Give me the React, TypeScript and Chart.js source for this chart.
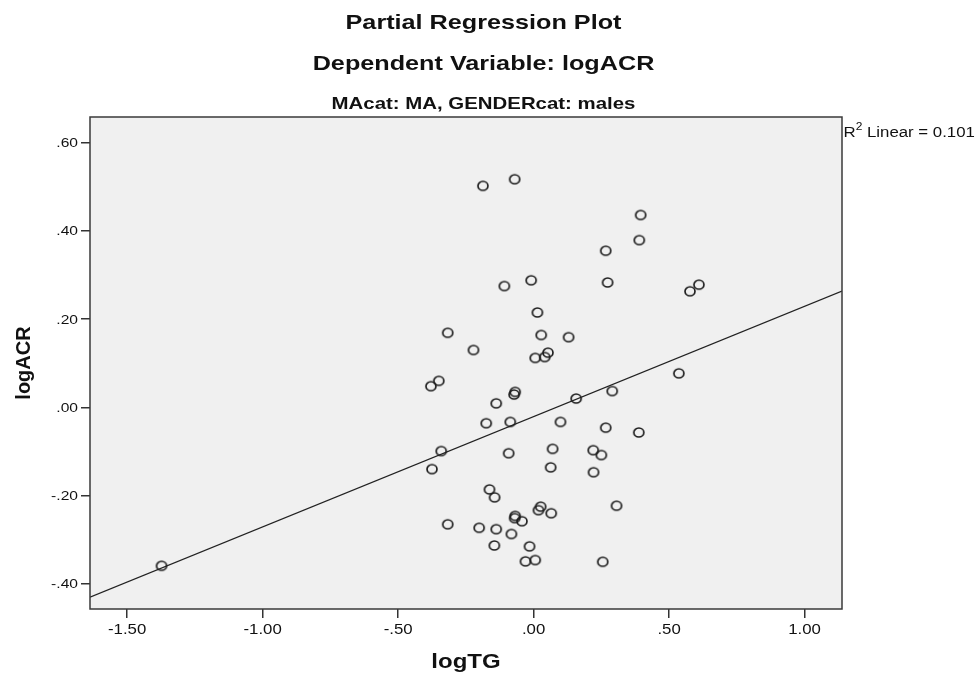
import React, { useEffect, useRef } from "react";
import { Chart, registerables } from "chart.js";

Chart.register(...registerables);

// ---- data ----
const TITLE_LINES = ["Partial Regression Plot", "Dependent Variable: logACR"];
const SUBTITLE = "MAcat: MA, GENDERcat: males";
const X_LABEL = "logTG";
const Y_LABEL = "logACR";
const R2_TEXT = ["R", "2", " Linear = 0.101"];

const X_TICKS = [-1.5, -1.0, -0.5, 0.0, 0.5, 1.0];
const Y_TICKS = [-0.4, -0.2, 0.0, 0.2, 0.4, 0.6];
const X_MIN = -1.637;
const X_MAX = 1.138;
const Y_MIN = -0.457;
const Y_MAX = 0.658;

const X_VALUES = [
  -1.373, -0.187, -0.07, 0.395, 0.39, 0.266, 0.273, -0.009, -0.108, 0.577,
  0.61, 0.014, -0.317, 0.028, 0.129, -0.222, 0.006, 0.041, 0.053, -0.379,
  -0.35, -0.068, -0.072, -0.138, 0.157, 0.29, 0.536, -0.175, -0.086, 0.099,
  0.266, 0.388, -0.341, -0.092, 0.07, 0.22, 0.25, -0.375, 0.063, 0.221,
  -0.163, -0.144, 0.026, 0.018, 0.065, 0.306, -0.068, -0.07, -0.043, -0.317,
  -0.201, -0.138, -0.082, -0.145, -0.015, -0.03, 0.006, 0.255,
];
const Y_VALUES = [
  -0.359, 0.502, 0.517, 0.436, 0.379, 0.355, 0.283, 0.288, 0.275, 0.263,
  0.278, 0.215, 0.169, 0.164, 0.159, 0.13, 0.112, 0.114, 0.124, 0.048,
  0.06, 0.035, 0.029, 0.009, 0.02, 0.037, 0.077, -0.036, -0.033, -0.033,
  -0.046, -0.057, -0.099, -0.104, -0.094, -0.097, -0.108, -0.14, -0.136, -0.147,
  -0.186, -0.204, -0.225, -0.233, -0.24, -0.223, -0.246, -0.251, -0.258, -0.265,
  -0.273, -0.276, -0.287, -0.313, -0.315, -0.349, -0.346, -0.35,
];
const FIT_INTERCEPT = -0.021;
const FIT_SLOPE = 0.25;

// ---- styling ----
const FONT = "'Liberation Sans', Arial, sans-serif";
const STRETCH = 1.2;
const TEXT_COLOR = "#111";

function fmtTick(v: number): string {
  const s = Math.abs(v).toFixed(2);
  const t = s.startsWith("0") ? s.slice(1) : s;
  return (v < -1e-9 ? "-" : "") + t;
}

function drawStretched(
  ctx: CanvasRenderingContext2D,
  text: string,
  x: number,
  y: number,
  font: string,
  align: CanvasTextAlign,
  baseline: CanvasTextBaseline = "alphabetic"
) {
  ctx.save();
  ctx.translate(x, y);
  ctx.scale(STRETCH, 1);
  ctx.font = font;
  ctx.fillStyle = TEXT_COLOR;
  ctx.textAlign = align;
  ctx.textBaseline = baseline;
  ctx.fillText(text, 0, 0);
  ctx.restore();
}

function makeMarker(): HTMLCanvasElement {
  const c = document.createElement("canvas");
  c.width = 14;
  c.height = 13;
  const g = c.getContext("2d")!;
  g.strokeStyle = "#1e1e1e";
  g.lineWidth = 1.7;
  g.beginPath();
  g.ellipse(7, 6.5, 5.0, 4.5, 0, 0, Math.PI * 2);
  g.stroke();
  return c;
}

const decorPlugin = {
  id: "spssDecor",
  beforeDraw(chart: any) {
    const { ctx, chartArea: a } = chart;
    ctx.save();
    ctx.fillStyle = "#ffffff";
    ctx.fillRect(0, 0, chart.width, chart.height);
    ctx.fillStyle = "#f0f0f0";
    ctx.fillRect(a.left, a.top, a.right - a.left, a.bottom - a.top);
    ctx.restore();
  },
  afterDraw(chart: any) {
    const { ctx, chartArea: a } = chart;
    const xs = chart.scales.x;
    const ys = chart.scales.y;
    ctx.save();
    ctx.strokeStyle = "#3a3a3a";
    ctx.lineWidth = 1.5;
    ctx.strokeRect(a.left, a.top, a.right - a.left, a.bottom - a.top);
    ctx.restore();

    // titles
    const cx = 483.5;
    drawStretched(ctx, TITLE_LINES[0], cx, 28.5, `bold 21px ${FONT}`, "center");
    drawStretched(ctx, TITLE_LINES[1], cx, 70, `bold 21px ${FONT}`, "center");
    drawStretched(ctx, SUBTITLE, cx, 108.5, `bold 17px ${FONT}`, "center");

    // tick labels
    xs.ticks.forEach((t: any) => {
      const px = xs.getPixelForValue(t.value);
      drawStretched(ctx, fmtTick(t.value), px, a.bottom + 25, `14px ${FONT}`, "center");
    });
    ys.ticks.forEach((t: any) => {
      const py = ys.getPixelForValue(t.value);
      drawStretched(ctx, fmtTick(t.value), a.left - 12, py + 1, `13px ${FONT}`, "right", "middle");
    });

    // axis titles
    drawStretched(ctx, X_LABEL, (a.left + a.right) / 2, 668, `bold 20px ${FONT}`, "center");
    ctx.save();
    ctx.translate(29.5, (a.top + a.bottom) / 2);
    ctx.rotate(-Math.PI / 2);
    ctx.font = `bold 20px ${FONT}`;
    ctx.fillStyle = TEXT_COLOR;
    ctx.textAlign = "center";
    ctx.textBaseline = "alphabetic";
    ctx.fillText(Y_LABEL, 0, 0);
    ctx.restore();

    // R² annotation
    ctx.save();
    let x = a.right + 1.5;
    const base = a.top + 20;
    drawStretched(ctx, R2_TEXT[0], x, base, `14px ${FONT}`, "left");
    ctx.font = `14px ${FONT}`;
    x += ctx.measureText(R2_TEXT[0]).width * STRETCH;
    drawStretched(ctx, R2_TEXT[1], x, base - 7, `10px ${FONT}`, "left");
    ctx.font = `10px ${FONT}`;
    x += ctx.measureText(R2_TEXT[1]).width * STRETCH;
    drawStretched(ctx, R2_TEXT[2], x, base, `14px ${FONT}`, "left");
    ctx.restore();
  },
};

export default function App() {
  const ref = useRef<HTMLCanvasElement | null>(null);

  useEffect(() => {
    if (!ref.current) return;
    const marker = makeMarker();
    const points = X_VALUES.map((x, i) => ({ x, y: Y_VALUES[i] }));
    const fitLine = [
      { x: X_MIN, y: FIT_INTERCEPT + FIT_SLOPE * X_MIN },
      { x: X_MAX, y: FIT_INTERCEPT + FIT_SLOPE * X_MAX },
    ];
    const chart = new Chart(ref.current, {
      type: "scatter",
      data: {
        datasets: [
          {
            label: "fit",
            data: fitLine,
            showLine: true,
            borderColor: "#222",
            borderWidth: 1.2,
            pointRadius: 0,
            order: 2,
          } as any,
          {
            label: "points",
            data: points,
            pointStyle: marker as any,
            pointRadius: 6,
            order: 1,
          },
        ],
      },
      options: {
        animation: false,
        responsive: false,
        devicePixelRatio: 1,
        layout: { padding: { top: 117, left: 0, right: 137, bottom: 0 } },
        plugins: {
          legend: { display: false },
          tooltip: { enabled: false },
          title: { display: false },
        },
        events: [],
        scales: {
          x: {
            type: "linear",
            min: X_MIN,
            max: X_MAX,
            afterBuildTicks: (s: any) => {
              s.ticks = X_TICKS.map((v) => ({ value: v }));
            },
            afterFit: (s: any) => {
              s.height = 68;
            },
            ticks: { display: false },
            grid: {
              display: true,
              drawOnChartArea: false,
              drawTicks: true,
              tickLength: 9,
              color: "#333",
              lineWidth: 1.5,
            },
            border: { display: false },
          },
          y: {
            type: "linear",
            min: Y_MIN,
            max: Y_MAX,
            afterBuildTicks: (s: any) => {
              s.ticks = Y_TICKS.map((v) => ({ value: v }));
            },
            afterFit: (s: any) => {
              s.width = 90;
            },
            ticks: { display: false },
            grid: {
              display: true,
              drawOnChartArea: false,
              drawTicks: true,
              tickLength: 9,
              color: "#333",
              lineWidth: 1.5,
            },
            border: { display: false },
          },
        },
      },
      plugins: [decorPlugin],
    });
    return () => chart.destroy();
  }, []);

  return (
    <div style={{ position: "fixed", left: 0, top: 0, width: 979, height: 677, background: "#fff" }}>
      <canvas ref={ref} width={979} height={677} style={{ display: "block" }} />
    </div>
  );
}
